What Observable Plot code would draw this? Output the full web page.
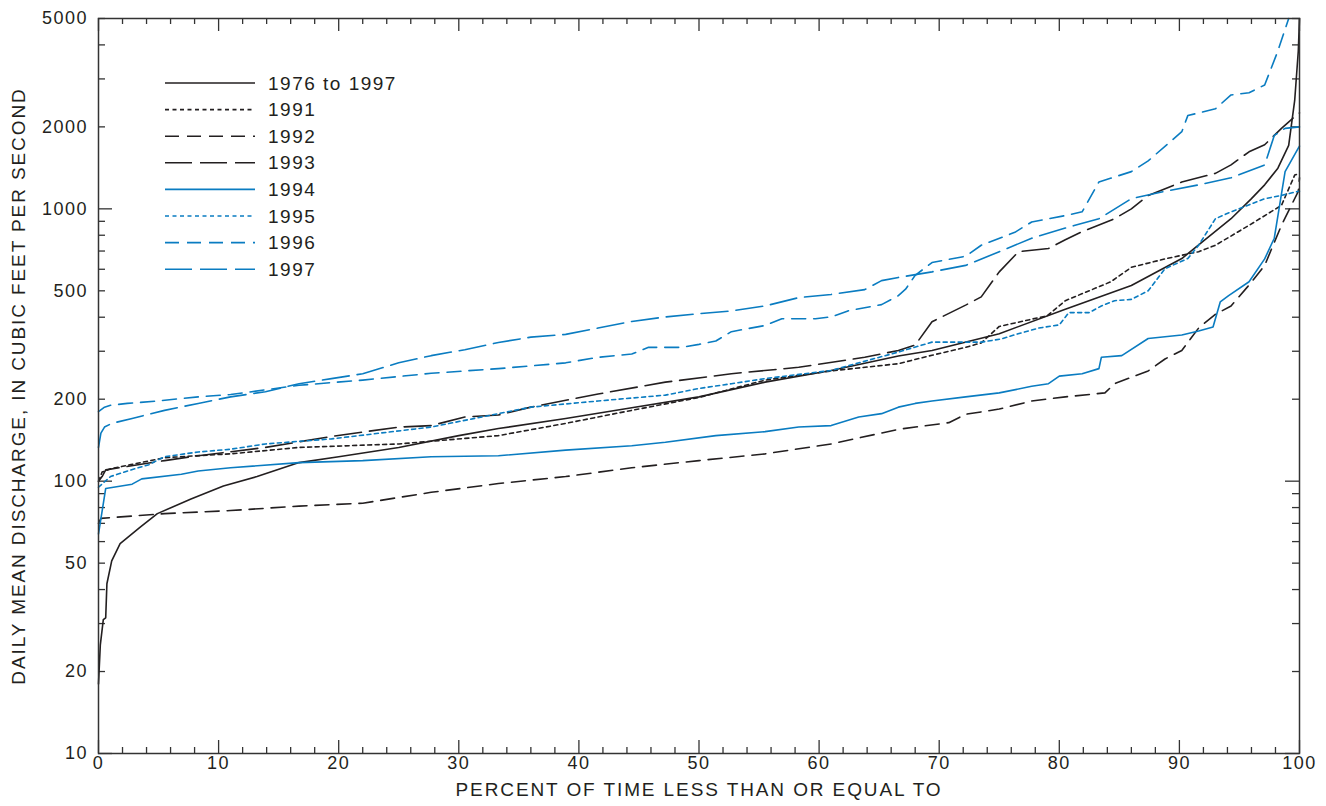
<!DOCTYPE html>
<html><head><meta charset="utf-8">
<script src="https://cdn.jsdelivr.net/npm/d3@7"></script>
<script src="https://cdn.jsdelivr.net/npm/@observablehq/plot@0.6"></script>
<style>
body{margin:0;background:#fff;}
#wrap{position:relative;width:1326px;height:806px;font-family:"Liberation Sans",Arial,Helvetica,sans-serif;}
#legend{position:absolute;left:160px;top:69px;}
#wrap svg text{letter-spacing:1.5px;}
#wrap svg text.title{letter-spacing:1.9px;}
</style></head><body><div id="wrap"></div>
<script>
// ---- data ----
const seriesNames = ["1976 to 1997","1991","1992","1993","1994","1995","1996","1997"];

const pct7697 = [0,0.15,0.4,0.6,0.7,1.1,1.8,3.5,4.9,7.7,10.4,13.2,16.7,20,25,30,33.3,38.9,44.4,50,55.5,61,66.6,69.4,75,80.5,86,90.2,94.3,96,97.1,98.2,99.1,99.6,99.9,100];
const q7697   = [18,25,31,31.5,42,51,59,68,76,86,96,104,117,123,133,147,156,170,186,204,231,255,288,302,348,428,523,657,920,1090,1225,1410,1710,2500,3800,5000];

const pct1991 = [0,0.3,1,2.7,5.5,11,16.7,25,33.3,38.9,44.4,50,55.5,61,66.6,69.4,72.2,73.5,75,79,80.5,84.3,86,88.8,91.6,93,95.8,98.5,99.6,100];
const q1991   = [100,108,111,115,122,126,133,137,147,163,182,203,235,254,270,290,310,322,370,405,460,540,610,655,696,735,870,1030,1330,1350];

const pct1992 = [0,0.2,5.5,11,16.7,22,27.7,33.3,38.9,44.4,50,55.5,61,66.6,70.8,72.2,75,77.7,80.5,83.8,84.6,87.4,88.8,90.2,91.6,93,94.3,95.8,97.1,98.5,99.9,100];
const q1992   = [70,73,76,78,81,83,91,98,104,112,119,126,137,155,164,176,184,197,204,211,228,254,281,302,365,410,440,525,620,870,1160,1300];

const pct1993 = [0,0.3,0.6,5.5,8.3,13.9,19.4,25,27.7,30.5,33.3,36,41.6,47.2,52.7,58.3,63.8,66.6,68,69.4,72.2,73.5,75,76.6,79.1,80.5,81.9,84.6,86,87.4,90.2,93,94.3,95.8,97.1,98.5,99.8,100];
const q1993   = [100,104,110,119,124,133,146,158,160,172,175,187,209,231,248,262,285,302,316,385,443,475,587,696,715,770,825,920,1000,1120,1255,1350,1450,1620,1720,1975,2220,2250];

const pct1994 = [0,0.6,2.8,3.6,6.9,8.3,11,16.7,22,27.7,33.3,38.9,44.4,47.2,51.4,55.5,58.3,61,63.3,65.2,66.6,68,69.4,72.2,75,77.7,79.1,80,81.9,83.3,83.5,85.2,87.4,90.2,91.6,92.8,93.4,94.1,95.8,97.1,97.9,98.8,99.9,100];
const q1994   = [64,94,97.5,102,106,109,112,117,119,123,124,130,135,139,147,152,158,160,172,177,187,193,197,204,211,223,228,243,248,259,285,289,334,344,356,368,455,480,540,655,780,1370,1670,1700];

const pct1995 = [0,1,2.7,4.2,5.5,8.3,11,13.9,19.4,27.7,33.3,36,41.6,47.2,50,52.7,55.5,61,66.6,69.4,73.5,75.2,76.3,78.3,80,80.8,82.5,83.5,84.6,86,87.4,88.8,90.7,91.6,93,94.3,97.1,98.5,99.9,100];
const q1995   = [95,104,110,115,123,128,131,137,143,158,177,187,197,207,219,228,238,255,298,324,324,333,345,365,375,416,416,440,460,465,500,603,657,735,920,975,1090,1120,1160,1160];

const pct1996 = [0,0.5,1,2.4,4.9,8.3,11,16.7,22,27.7,33.3,36,38.9,41.6,44.4,45.8,48.5,50,51.4,52.7,55.5,56.9,59.7,61,62.4,65.2,66.6,67.2,68,69.4,72.2,73.5,76.3,77.7,80.5,81.9,83.3,86,87.4,90.2,90.7,93,94.3,95.8,97.1,98.2,99.1];
const q1996   = [180,187,190,193,197,204,208,225,235,249,259,265,272,285,293,310,310,318,327,354,373,395,395,401,422,445,480,507,570,635,670,735,820,895,945,975,1255,1370,1500,1920,2200,2330,2620,2670,2850,3800,5000];

const pct1997 = [0,0.2,0.5,1.1,2.8,5.5,8.3,11,13.9,16.7,19.4,22,25,27.7,30.5,33.3,36,38.9,41.6,44.4,47.2,50,52.7,55.5,58.3,61,63.8,65.2,66.6,69.4,72.2,75,77.7,80.5,83.3,86,88.8,91.6,94.3,97.1,97.9,98.8,100];
const q1997   = [133,150,158,163,170,182,193,204,213,228,238,248,272,289,304,323,338,346,365,386,401,412,422,440,472,485,505,545,560,587,620,696,780,850,920,1090,1160,1225,1300,1450,1860,1975,2000];

const seriesPct = [pct7697,pct1991,pct1992,pct1993,pct1994,pct1995,pct1996,pct1997];
const seriesQ   = [q7697,q1991,q1992,q1993,q1994,q1995,q1996,q1997];

const xTickLabels = [0,10,20,30,40,50,60,70,80,90,100];
const xMinorTicks = [2,4,6,8,12,14,16,18,22,24,26,28,32,34,36,38,42,44,46,48,52,54,56,58,62,64,66,68,72,74,76,78,82,84,86,88,92,94,96,98];
const yTickLabels = [10,20,50,100,200,500,1000,2000,5000];
const yMajorTicks = [10,100,1000];
const yMinorTicks = [20,30,40,50,60,70,80,90,200,300,400,500,600,700,800,900,2000,3000,4000,5000];

const xTitle = "PERCENT OF TIME LESS THAN OR EQUAL TO";
const yTitle = "DAILY MEAN DISCHARGE, IN CUBIC FEET PER SECOND";

// ---- styles ----
const BLACK = "#231f20", BLUE = "#0a7cc1";
const seriesColor = [BLACK,BLACK,BLACK,BLACK,BLUE,BLUE,BLUE,BLUE];
const DOT = "4,3.5", SHORT = "14,8", LONG = "27,8";
const seriesDash = [null,DOT,SHORT,LONG,null,DOT,SHORT,LONG];

const W=1326,H=806,ML=98,MR=27,MT=18,MB=53;
const plotW=W-ML-MR, plotH=H-MT-MB;
const AX="#333";
const FONT="'Liberation Sans', Arial, Helvetica, sans-serif";

const lineMarks = seriesNames.map((name,i)=>{
  const rows = seriesPct[i].map((p,j)=>({p, q: seriesQ[i][j]}));
  return Plot.line(rows,{x:"p",y:"q",stroke:seriesColor[i],strokeWidth:1.6,strokeDasharray:seriesDash[i]});
});

const chart = Plot.plot({
  width:W,height:H,marginLeft:ML,marginRight:MR,marginTop:MT,marginBottom:MB,
  style:{fontFamily:FONT,fontSize:"18px",color:BLACK,background:"white"},
  x:{domain:[0,100],axis:null},
  y:{type:"log",domain:[10,5000],axis:null},
  marks:[
    // tick labels
    Plot.text(xTickLabels,{x:d=>d,frameAnchor:"bottom",dy:15,text:d=>String(d),fill:BLACK,fontSize:18}),
    Plot.text(yTickLabels,{y:d=>d,frameAnchor:"left",dx:-10.5,textAnchor:"end",text:d=>String(d),fill:BLACK,fontSize:18}),
    // bottom ticks
    Plot.tickX(xMinorTicks,{x:d=>d,insetTop:plotH-6,stroke:AX,strokeWidth:1.3}),
    Plot.tickX(xTickLabels,{x:d=>d,insetTop:plotH-13,stroke:AX,strokeWidth:1.3}),
    // top ticks
    Plot.tickX(xMinorTicks,{x:d=>d,insetBottom:plotH-6,stroke:AX,strokeWidth:1.3}),
    Plot.tickX(xTickLabels,{x:d=>d,insetBottom:plotH-13,stroke:AX,strokeWidth:1.3}),
    // left ticks
    Plot.tickY(yMinorTicks,{y:d=>d,insetRight:plotW-7,stroke:AX,strokeWidth:1.3}),
    Plot.tickY(yMajorTicks,{y:d=>d,insetRight:plotW-14,stroke:AX,strokeWidth:1.3}),
    // right ticks
    Plot.tickY(yMinorTicks,{y:d=>d,insetLeft:plotW-7,stroke:AX,strokeWidth:1.3}),
    Plot.tickY(yMajorTicks,{y:d=>d,insetLeft:plotW-14,stroke:AX,strokeWidth:1.3}),
    ...lineMarks,
    Plot.frame({stroke:AX,strokeWidth:1.5}),
    Plot.text([xTitle],{frameAnchor:"bottom",dy:42,text:d=>d,fill:BLACK,fontSize:19}),
    Plot.text([yTitle],{frameAnchor:"left",textAnchor:"middle",rotate:-90,dx:-80,text:d=>d,fill:BLACK,fontSize:19})
  ]
});
const wrap = document.getElementById("wrap");
wrap.appendChild(chart);
d3.select(chart).selectAll("text").filter(function(){ const t=this.textContent; return t===xTitle||t===yTitle; }).classed("title",true);

// ---- legend ----
const rowH = 26.6;
const leg = d3.select(wrap).append("svg").attr("id","legend")
  .attr("width",280).attr("height",rowH*seriesNames.length+10)
  .style("font-family",FONT)
  .style("font-size","19px")
  .style("letter-spacing","1.5px");
const g = leg.selectAll("g").data(seriesNames).join("g")
  .attr("transform",(d,i)=>`translate(0,${14+i*rowH})`);
g.append("line").attr("x1",5).attr("x2",95).attr("y1",0).attr("y2",0)
  .attr("stroke",(d,i)=>seriesColor[i]).attr("stroke-width",1.6)
  .attr("stroke-dasharray",(d,i)=>seriesDash[i]);
g.append("text").attr("x",108).attr("y",0).attr("dy","0.35em").attr("fill",BLACK).text(d=>d);
</script>
</body></html>
